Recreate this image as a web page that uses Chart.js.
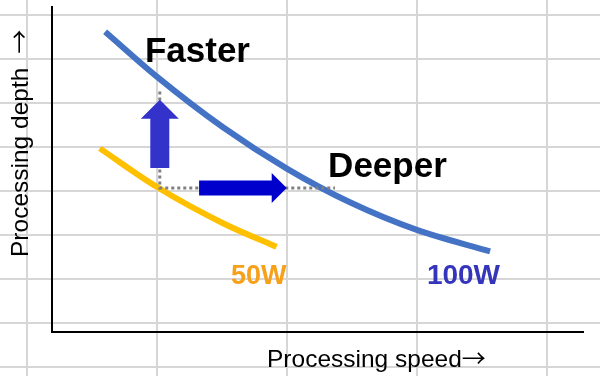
<!DOCTYPE html>
<html><head><meta charset="utf-8">
<script src="https://cdn.jsdelivr.net/npm/chart.js@4.4.0/dist/chart.umd.min.js"></script>
<style>
html,body{margin:0;padding:0;}
body{width:600px;height:376px;overflow:hidden;background-color:#fff;
background-image:linear-gradient(to right,#d6d6d6 0,#d6d6d6 2px,transparent 2px),linear-gradient(to bottom,#d6d6d6 0,#d6d6d6 2px,transparent 2px);
background-size:130px 44px;background-position:26px 14px;}
#wrap{position:relative;width:600px;height:376px;}
</style></head><body>
<div id="wrap"><canvas id="c" width="600" height="376"></canvas></div>
<script>
// Curves (arbitrary units: speed 0-10, depth 0-10)
const speed100W = [1.00, 1.98, 3.22, 4.43, 5.61, 6.87, 8.25];
const depth100W = [9.24, 7.85, 6.30, 5.02, 3.99, 3.14, 2.48];
const speed50W  = [0.90, 1.97, 3.23, 4.23];
const depth50W  = [5.65, 4.47, 3.34, 2.62];
// Dotted guide (vertical then horizontal)
const guideX = [2.03, 2.03, 5.33];
const guideY = [7.40, 4.43, 4.43];
// Arrows: [x1, y1, x2, y2]
const arrowUp    = [2.03, 5.05, 2.03, 7.15];
const arrowRight = [2.77, 4.43, 4.42, 4.43];
// Text labels
const labelTexts = ['Faster', 'Deeper', '50W', '100W'];
const labelX     = [1.75, 5.20, 3.37, 7.06];
const labelY     = [8.31, 4.77, 1.48, 1.48];
const axisTitleX = 'Processing speed';
const axisTitleY = 'Processing depth';
const axisArrow  = '→';

const pts = (xs, ys) => xs.map((x, i) => ({x, y: ys[i]}));

function drawArrow(ctx, x1, y1, x2, y2, shaftW, headW, headL, color) {
  const dx = x2 - x1, dy = y2 - y1, len = Math.hypot(dx, dy);
  ctx.save();
  ctx.translate(x1, y1);
  ctx.rotate(Math.atan2(dy, dx));
  ctx.beginPath();
  ctx.moveTo(0, -shaftW / 2);
  ctx.lineTo(len - headL, -shaftW / 2);
  ctx.lineTo(len - headL, -headW / 2);
  ctx.lineTo(len, 0);
  ctx.lineTo(len - headL, headW / 2);
  ctx.lineTo(len - headL, shaftW / 2);
  ctx.lineTo(0, shaftW / 2);
  ctx.closePath();
  ctx.fillStyle = color;
  ctx.fill();
  ctx.restore();
}

const overlay = {
  id: 'overlay',
  afterDatasetsDraw(chart) {
    const ctx = chart.ctx, xs = chart.scales.x, ys = chart.scales.y;
    const px = v => xs.getPixelForValue(v), py = v => ys.getPixelForValue(v);
    drawArrow(ctx, px(arrowUp[0]), py(arrowUp[1]), px(arrowUp[2]), py(arrowUp[3]), 19, 38, 19, '#3333cc');
    drawArrow(ctx, px(arrowRight[0]), py(arrowRight[1]), px(arrowRight[2]), py(arrowRight[3]), 15, 30, 15, '#0000cc');
    const fonts  = ['bold 35px "Liberation Sans", Arial, sans-serif', 'bold 35px "Liberation Sans", Arial, sans-serif',
                    'bold 27px "Liberation Sans", Arial, sans-serif', 'bold 28px "Liberation Sans", Arial, sans-serif'];
    const colors = ['#000000', '#000000', '#f7a11a', '#3535bb'];
    ctx.save();
    ctx.textAlign = 'left';
    ctx.textBaseline = 'alphabetic';
    labelTexts.forEach((t, i) => {
      ctx.font = fonts[i];
      ctx.fillStyle = colors[i];
      ctx.fillText(t, px(labelX[i]), py(labelY[i]));
    });
    ctx.restore();
  },
  afterDraw(chart) {
    const ctx = chart.ctx;
    const main = '24.5px "Liberation Sans", Arial, sans-serif';
    const arr = '24px "Noto Sans CJK JP", sans-serif';
    ctx.save();
    ctx.fillStyle = '#000';
    ctx.textAlign = 'left';
    ctx.textBaseline = 'alphabetic';
    // x title
    ctx.font = main;
    ctx.fillText(axisTitleX, 267, 367);
    let w = ctx.measureText(axisTitleX).width;
    ctx.font = arr;
    ctx.fillText(axisArrow, 267 + w, 367);
    // y title
    ctx.translate(28, 257);
    ctx.rotate(-Math.PI / 2);
    ctx.font = main;
    ctx.fillText(axisTitleY, 0, 0);
    w = ctx.measureText(axisTitleY).width;
    ctx.font = arr;
    ctx.fillText(axisArrow, w + 14, 0);
    ctx.restore();
  }
};

const axisCommon = {
  type: 'linear', min: 0, max: 10,
  ticks: {display: false},
  grid: {display: false, drawTicks: false},
  border: {display: true, color: '#000', width: 2}
};

new Chart(document.getElementById('c'), {
  type: 'line',
  data: {
    datasets: [
      {data: pts(guideX, guideY), borderColor: '#808080', borderWidth: 3, borderDash: [3, 3], pointRadius: 0, tension: 0, fill: false},
      {data: pts(speed100W, depth100W), borderColor: '#4472c4', borderWidth: 6, pointRadius: 0, cubicInterpolationMode: 'monotone', fill: false, borderCapStyle: 'butt'},
      {data: pts(speed50W, depth50W), borderColor: '#ffc000', borderWidth: 6, pointRadius: 0, cubicInterpolationMode: 'monotone', fill: false, borderCapStyle: 'butt'}
    ]
  },
  options: {
    responsive: false,
    devicePixelRatio: 1,
    animation: false,
    layout: {padding: {left: 52, right: 17, top: 7, bottom: 44}},
    plugins: {legend: {display: false}, tooltip: {enabled: false}},
    scales: {x: axisCommon, y: Object.assign({}, axisCommon)}
  },
  plugins: [overlay]
});
</script>
</body></html>
